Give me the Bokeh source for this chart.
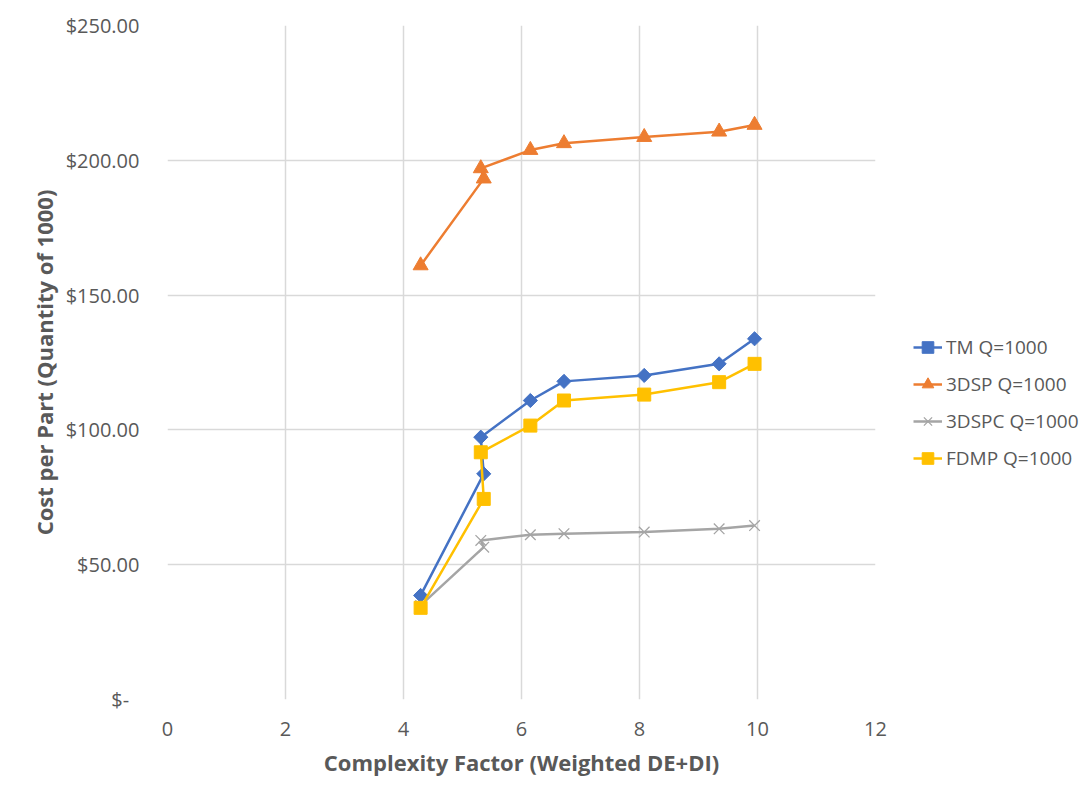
import math
from bokeh.plotting import figure
from bokeh.models import Legend, LegendItem, CustomJSTickFormatter, FixedTicker, Range1d
from bokeh.embed import file_html
from bokeh.resources import INLINE

x_vals = [4.29, 5.36, 5.31, 6.15, 6.72, 8.08, 9.35, 9.95]
tm = [38.6, 83.7, 97.3, 110.9, 118.0, 120.2, 124.5, 133.8]
dsp = [161.0, 193.2, 197.0, 203.8, 206.3, 208.6, 210.6, 213.1]
dspc = [34.9, 56.5, 59.0, 61.1, 61.5, 62.1, 63.3, 64.5]
fdmp = [34.0, 74.4, 91.7, 101.6, 110.9, 113.1, 117.7, 124.5]
series_names = ["TM Q=1000", "3DSP Q=1000", "3DSPC Q=1000", "FDMP Q=1000"]
x_ticks = [0, 2, 4, 6, 8, 10, 12]
y_ticks = [0, 50, 100, 150, 200, 250]

TEXT = "#595959"
GRID = "#D9D9D9"

p = figure(output_backend="svg", toolbar_location=None,
           frame_width=708, frame_height=674,
           x_range=Range1d(0, 12), y_range=Range1d(0, 250),
           min_border_left=167, min_border_right=211, min_border_top=25, min_border_bottom=95)
p.outline_line_color = None
p.background_fill_color = "white"
p.border_fill_color = "white"

p.xaxis.ticker = FixedTicker(ticks=x_ticks)
p.yaxis.ticker = FixedTicker(ticks=y_ticks)
p.yaxis.formatter = CustomJSTickFormatter(code="return tick == 0 ? '$-\u00a0\u00a0' : '$' + tick.toFixed(2);")
for ax in (p.xaxis, p.yaxis):
    ax.axis_line_color = None
    ax.major_tick_line_color = None
    ax.minor_tick_line_color = None
    ax.major_label_text_color = TEXT
    ax.major_label_text_font = "Open Sans"
    ax.major_label_text_font_size = "20px"
    ax.axis_label_text_color = TEXT
    ax.axis_label_text_font = "Open Sans"
    ax.axis_label_text_font_style = "bold"
    ax.axis_label_text_font_size = "22px"
p.yaxis.major_label_standoff = 22
p.xaxis.major_label_standoff = 16
p.yaxis.axis_label = "Cost per Part (Quantity of 1000)"
p.xaxis.axis_label = "Complexity Factor (Weighted DE+DI)"
p.yaxis.axis_label_standoff = 4
p.xaxis.axis_label_standoff = 8

p.xgrid.grid_line_color = GRID
p.ygrid.grid_line_color = GRID
p.xgrid.grid_line_width = 1.5
p.ygrid.grid_line_width = 1.5

items = []
specs = [
    (tm, "#4472C4", "square", 10, math.pi / 4),
    (dsp, "#ED7D31", "triangle", 15, 0),
    (dspc, "#A5A5A5", "x", 15, 0),
    (fdmp, "#FFC000", "square", 13, 0),
]
for name, (ys, color, marker, size, ang) in zip(series_names, specs):
    ln = p.line(x_vals, ys, line_color=color, line_width=2.5)
    sc = p.scatter(x_vals, ys, marker=marker, size=size, angle=ang, fill_color=color,
                   line_color=color, line_width=1.3 if marker == "x" else 1)
    items.append(LegendItem(label=name, renderers=[ln, sc]))

legend = Legend(items=items, location=(38, 224))
legend.border_line_color = None
legend.background_fill_alpha = 0
legend.label_text_color = TEXT
legend.label_text_font = "Open Sans"
legend.label_text_font_size = "19px"
legend.glyph_width = 29
legend.glyph_height = 34
legend.label_height = 20
legend.spacing = 3
legend.label_standoff = 4
legend.padding = 0
legend.margin = 0
p.add_layout(legend, "right")

open("out.html", "w").write(file_html(p, INLINE))
